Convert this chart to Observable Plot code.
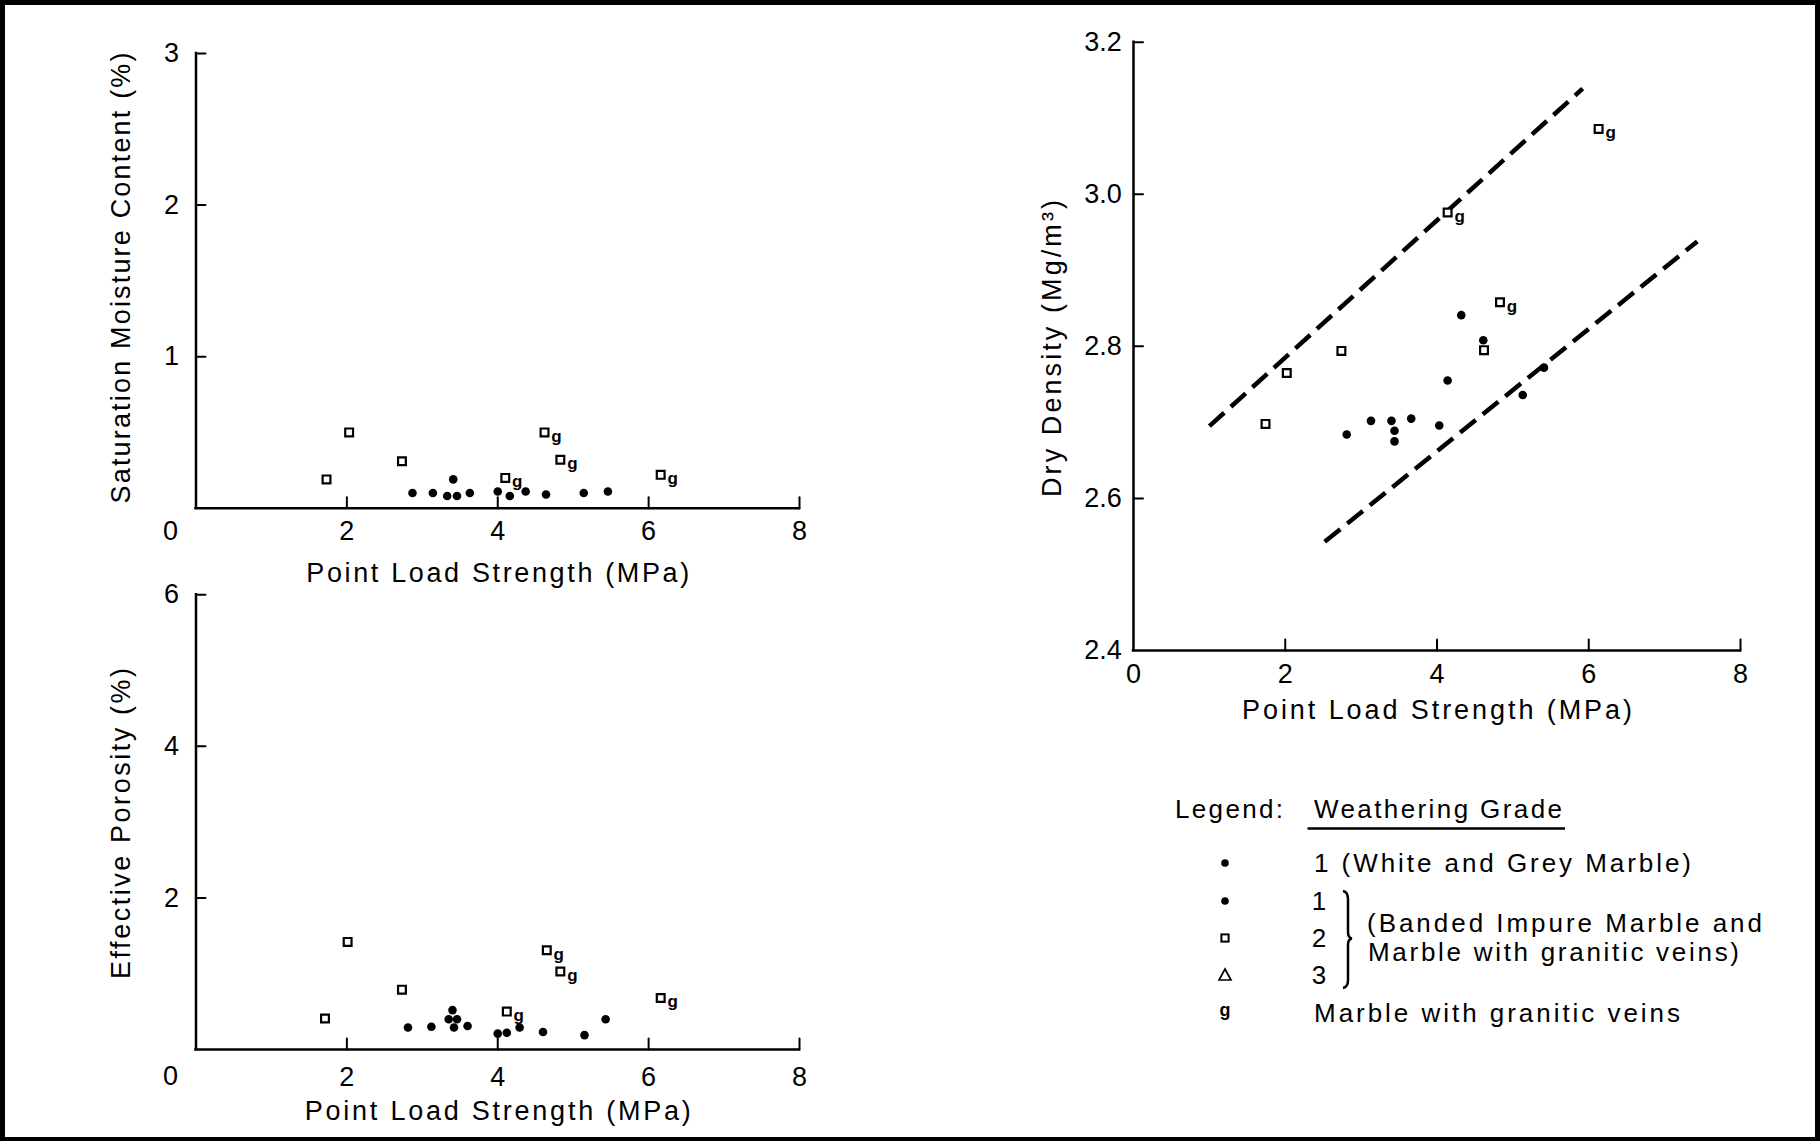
<!DOCTYPE html>
<html><head><meta charset="utf-8">
<script src="https://cdn.jsdelivr.net/npm/d3@7"></script>
<script src="https://cdn.jsdelivr.net/npm/@observablehq/plot@0.6"></script>
<style>
html,body{margin:0;padding:0;background:#fff;}
#page{position:relative;width:1820px;height:1141px;overflow:hidden;background:#fff;font-family:"Liberation Sans",Arial,sans-serif;}
#frame{position:absolute;left:0;top:0;width:1820px;height:1141px;box-sizing:border-box;border:5px solid #000;border-bottom-width:4px;pointer-events:none;}
.chart{position:absolute;}
.chart svg{overflow:visible;}
</style></head><body><div id="page"></div>
<script>
const FONT = "Liberation Sans, Arial, sans-serif";
const FS = 27;

// ---------------- data ----------------
const xTickMarks = [2, 4, 6, 8];
const xTickLabelsLeft = [2, 4, 6, 8];
const xTickLabelsRight = [0, 2, 4, 6, 8];
const zeroLabel = "0";
const xTitle = "Point Load Strength (MPa)";

// Saturation moisture content (%)
const moistTicks = [1, 2, 3];
const moistDotX = [2.87, 3.14, 3.33, 3.46, 3.41, 3.63, 4.00, 4.16, 4.37, 4.64, 5.14, 5.46];
const moistDotY = [0.10, 0.10, 0.08, 0.08, 0.19, 0.10, 0.11, 0.08, 0.11, 0.09, 0.10, 0.11];
const moistSqX = [1.73, 2.03, 2.73, 4.10, 4.62, 4.83, 6.16];
const moistSqY = [0.19, 0.50, 0.31, 0.20, 0.50, 0.32, 0.22];
const moistSqG = [false, false, false, true, true, true, true];

// Effective porosity (%)
const porosTicks = [2, 4, 6];
const porosDotX = [2.81, 3.12, 3.40, 3.35, 3.46, 3.42, 3.60, 4.00, 4.12, 4.29, 4.60, 5.15, 5.43];
const porosDotY = [0.29, 0.30, 0.52, 0.40, 0.40, 0.29, 0.31, 0.21, 0.22, 0.29, 0.23, 0.19, 0.40];
const porosSqX = [1.71, 2.01, 2.73, 4.12, 4.65, 4.83, 6.16];
const porosSqY = [0.41, 1.42, 0.79, 0.50, 1.31, 1.03, 0.68];
const porosSqG = [false, false, false, true, true, true, true];

// Dry density (Mg/m3)
const densTickMarks = [2.6, 2.8, 3.0, 3.2];
const densTickLabels = [2.4, 2.6, 2.8, 3.0, 3.2];
const densDotX = [2.81, 3.13, 3.40, 3.44, 3.44, 3.66, 4.03, 4.14, 4.32, 4.61, 5.13, 5.41];
const densDotY = [2.684, 2.702, 2.702, 2.689, 2.675, 2.705, 2.696, 2.755, 2.841, 2.808, 2.736, 2.772];
const densSqX = [1.74, 2.02, 2.74, 4.14, 4.62, 4.83, 6.13];
const densSqY = [2.698, 2.765, 2.794, 2.976, 2.795, 2.858, 3.086];
const densSqG = [false, false, false, true, false, true, true];
const boundLineName = ["upper", "upper", "lower", "lower"];
const boundLineX = [1.00, 5.92, 2.52, 7.43];
const boundLineY = [2.695, 3.139, 2.543, 2.938];

// legend
const legendHeader = "Legend:";
const legendTitle = "Weathering Grade";
const legendSymbols = ["dot", "dot", "square", "triangle", "g"];
const legendLabels = ["1 (White and Grey Marble)", "1", "2", "3", "Marble with granitic veins"];
const legendGroupText = ["(Banded Impure Marble and", "Marble with granitic veins)"];

// ---------------- helpers ----------------
const zip = (xs, ys, extra) => xs.map((x, i) => ({x, y: ys[i], g: extra ? extra[i] : false}));
const tickLine = {draw(ctx, l) { ctx.moveTo(0, 0); ctx.lineTo(0, -l); }};
const page = document.getElementById("page");

function fitText(svg, str, len) {
  svg.querySelectorAll("text").forEach(t => {
    if (t.textContent === str) { t.setAttribute("textLength", len); t.setAttribute("lengthAdjust", "spacing"); }
  });
}

function chart(c) {
  const marginLeft = c.x0 - c.left, marginRight = c.left + c.width - c.x1;
  const marginTop = c.yTop - c.top, marginBottom = c.top + c.height - c.yBot;
  const dots = zip(c.dotX, c.dotY);
  const squares = zip(c.sqX, c.sqY, c.sqG);
  const marks = [];
  if (c.lines) marks.push(Plot.line(c.lines, {x: "x", y: "y", z: "z", stroke: "black", strokeWidth: 4.5, strokeDasharray: "20,9", strokeLinecap: "butt"}));
  marks.push(
    Plot.ruleY([c.yDomain[0]], {stroke: "black", strokeWidth: 2.5, strokeLinecap: "square"}),
    Plot.ruleX([c.xDomain[0]], {stroke: "black", strokeWidth: 2.5, strokeLinecap: "square"}),
    Plot.vector(c.xTickMarks, {x: d => d, y: c.yDomain[0], length: 11, rotate: 0, anchor: "start", shape: tickLine, stroke: "black", strokeWidth: 2}),
    Plot.vector(c.yTickMarks, {x: c.xDomain[0], y: d => d, length: 9.5, rotate: 90, anchor: "start", shape: tickLine, stroke: "black", strokeWidth: 2}),
    Plot.axisX({ticks: c.xTickLabels, tickSize: 0, tickPadding: c.xPad, fontSize: FS, label: null}),
    Plot.axisY({ticks: c.yTickLabels, tickSize: 0, tickPadding: c.yPad, fontSize: FS, label: null, tickFormat: c.yFormat}),
    Plot.text([c.yTitle], {text: d => d, frameAnchor: "left", textAnchor: "middle", lineAnchor: "middle", rotate: -90, dx: c.yTitleX - c.x0, dy: c.yTitleY - (c.yTop + c.yBot) / 2, fontSize: FS}),
    Plot.text([c.xTitleText], {text: d => d, frameAnchor: "bottom", textAnchor: "middle", lineAnchor: "middle", dy: c.xTitleY - c.yBot, fontSize: FS}),
    Plot.dot(squares, {x: "x", y: "y", symbol: "square", r: 4.4, fill: "white", stroke: "black", strokeWidth: 2.2}),
    Plot.dot(dots, {x: "x", y: "y", r: 4.3, fill: "black"}),
    Plot.text(squares.filter(d => d.g), {x: "x", y: "y", text: () => "g", dx: 12, dy: 4, fontSize: 17, fontWeight: "bold"})
  );
  if (c.zero) marks.push(Plot.text([{x: c.xDomain[0], y: c.yDomain[0], t: zeroLabel}], {x: "x", y: "y", text: "t", dx: c.zeroDx, dy: c.zeroDy, fontSize: FS}));
  const svg = Plot.plot({
    width: c.width, height: c.height, marginLeft, marginRight, marginTop, marginBottom,
    x: {domain: c.xDomain, axis: null},
    y: {domain: c.yDomain, axis: null},
    style: {fontFamily: FONT, fontSize: FS + "px", background: "none", overflow: "visible", color: "black"},
    marks
  });
  fitText(svg, c.yTitle, c.yTitleLen);
  fitText(svg, c.xTitleText, c.xTitleLen);
  const div = document.createElement("div");
  div.className = "chart";
  Object.assign(div.style, {left: c.left + "px", top: c.top + "px", width: c.width + "px", height: c.height + "px"});
  div.appendChild(svg);
  page.appendChild(div);
}

chart({
  left: 0, top: 0, width: 830, height: 600,
  x0: 195.5, x1: 799, yTop: 53, yBot: 507.7,
  xDomain: [0, 8], yDomain: [0, 3],
  xTickMarks, xTickLabels: xTickLabelsLeft, yTickMarks: moistTicks, yTickLabels: moistTicks,
  xPad: 13, yPad: 17, yFormat: d => String(d),
  zero: true, zeroDx: -25.5, zeroDy: 23.5,
  yTitle: "Saturation Moisture Content (%)", yTitleX: 120.5, yTitleY: 277.5, yTitleLen: 451,
  xTitleText: xTitle, xTitleY: 573, xTitleLen: 383,
  dotX: moistDotX, dotY: moistDotY, sqX: moistSqX, sqY: moistSqY, sqG: moistSqG
});

chart({
  left: 0, top: 580, width: 830, height: 561,
  x0: 195.5, x1: 799, yTop: 594.3, yBot: 1049,
  xDomain: [0, 8], yDomain: [0, 6],
  xTickMarks, xTickLabels: xTickLabelsLeft, yTickMarks: porosTicks, yTickLabels: porosTicks,
  xPad: 17, yPad: 17, yFormat: d => String(d),
  zero: true, zeroDx: -25.5, zeroDy: 27,
  yTitle: "Effective Porosity (%)", yTitleX: 120.5, yTitleY: 823, yTitleLen: 311,
  xTitleText: xTitle, xTitleY: 1111, xTitleLen: 386,
  dotX: porosDotX, dotY: porosDotY, sqX: porosSqX, sqY: porosSqY, sqG: porosSqG
});

chart({
  left: 1000, top: 0, width: 800, height: 760,
  x0: 1133, x1: 1740, yTop: 41.7, yBot: 650,
  xDomain: [0, 8], yDomain: [2.4, 3.2],
  xTickMarks, xTickLabels: xTickLabelsRight, yTickMarks: densTickMarks, yTickLabels: densTickLabels,
  xPad: 13, yPad: 11.6, yFormat: d3.format(".1f"),
  zero: false,
  yTitle: "Dry Density (Mg/m³)", yTitleX: 1052, yTitleY: 348, yTitleLen: 297,
  xTitleText: xTitle, xTitleY: 710, xTitleLen: 390,
  dotX: densDotX, dotY: densDotY, sqX: densSqX, sqY: densSqY, sqG: densSqG,
  lines: boundLineX.map((x, i) => ({x, y: boundLineY[i], z: boundLineName[i]}))
});

// ---------------- legend ----------------
const lg = d3.select(page).append("svg")
  .attr("width", 1820).attr("height", 1141)
  .style("position", "absolute").style("left", 0).style("top", 0)
  .style("font-family", FONT).style("font-size", "26px");

const hdrY = 809;
lg.append("text").attr("x", 1175).attr("y", hdrY).attr("dy", "0.35em").attr("textLength", 108).attr("lengthAdjust", "spacing").text(legendHeader);
lg.append("text").attr("x", 1314).attr("y", hdrY).attr("dy", "0.35em").attr("textLength", 248).attr("lengthAdjust", "spacing").text(legendTitle);
lg.append("line").attr("x1", 1307.5).attr("x2", 1565).attr("y1", 828.5).attr("y2", 828.5).attr("stroke", "black").attr("stroke-width", 2.5);

const rowY = [863, 901, 938, 975, 1013];
const symX = 1225;
legendSymbols.forEach((s, i) => {
  const y = rowY[i];
  if (s === "dot") lg.append("circle").attr("cx", symX).attr("cy", y).attr("r", 3.8).attr("fill", "black");
  else if (s === "square") lg.append("rect").attr("x", symX - 3.6).attr("y", y - 3.6).attr("width", 7.2).attr("height", 7.2).attr("fill", "white").attr("stroke", "black").attr("stroke-width", 2);
  else if (s === "triangle") lg.append("path").attr("d", `M${symX},${y - 6}L${symX + 6},${y + 5}L${symX - 6},${y + 5}Z`).attr("fill", "none").attr("stroke", "black").attr("stroke-width", 1.7);
  else lg.append("text").attr("x", symX).attr("y", y).attr("dy", "0.15em").attr("text-anchor", "middle").style("font-size", "18px").style("font-weight", "bold").text("g");
});
// labels
lg.append("text").attr("x", 1314).attr("y", rowY[0]).attr("dy", "0.35em").attr("textLength", 377).attr("lengthAdjust", "spacing").text(legendLabels[0]);
[1, 2, 3].forEach(i => lg.append("text").attr("x", 1319).attr("y", rowY[i]).attr("dy", "0.35em").attr("text-anchor", "middle").text(legendLabels[i]));
lg.append("text").attr("x", 1314).attr("y", rowY[4]).attr("dy", "0.35em").attr("textLength", 366).attr("lengthAdjust", "spacing").text(legendLabels[4]);
lg.append("text").attr("x", 1367).attr("y", 923).attr("dy", "0.35em").attr("textLength", 395).attr("lengthAdjust", "spacing").text(legendGroupText[0]);
lg.append("text").attr("x", 1368).attr("y", 952).attr("dy", "0.35em").attr("textLength", 371).attr("lengthAdjust", "spacing").text(legendGroupText[1]);
// brace
lg.append("path")
  .attr("d", "M1343,891 Q1348,892 1348,899 L1348,932 Q1348,938 1352,938.5 Q1348,939 1348,945 L1348,980 Q1348,987 1343,988")
  .attr("fill", "none").attr("stroke", "black").attr("stroke-width", 2.5);

const frame = document.createElement("div");
frame.id = "frame";
page.appendChild(frame);
</script></body></html>
